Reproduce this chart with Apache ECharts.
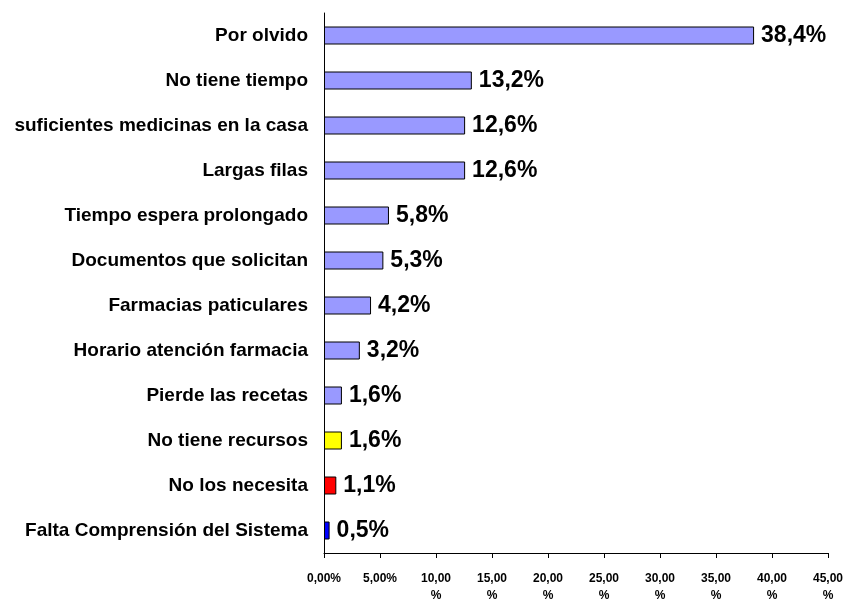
<!DOCTYPE html>
<html>
<head>
<meta charset="utf-8">
<script src="https://cdn.jsdelivr.net/npm/echarts@6/dist/echarts.min.js"></script>
<style>
  html, body { margin: 0; padding: 0; background: #fff; }
  #chart { width: 852px; height: 601px; }
</style>
</head>
<body>
<div id="chart"></div>
<script>
// categories top to bottom, as in the picture
const categories = [
    'Por olvido',
    'No tiene tiempo',
    'suficientes medicinas en la casa',
    'Largas filas',
    'Tiempo espera prolongado',
    'Documentos que solicitan',
    'Farmacias paticulares',
    'Horario atención farmacia',
    'Pierde las recetas',
    'No tiene recursos',
    'No los necesita',
    'Falta Comprensión del Sistema'
];
const percents = [38.4, 13.2, 12.6, 12.6, 5.8, 5.3, 4.2, 3.2, 1.6, 1.6, 1.1, 0.5];
const barColors = ['#9999ff', '#9999ff', '#9999ff', '#9999ff', '#9999ff', '#9999ff',
    '#9999ff', '#9999ff', '#9999ff', '#ffff00', '#ff0000', '#0000ff'];

const chart = echarts.init(document.getElementById('chart'));

const fmtPct = v => v.toFixed(1).replace('.', ',') + '%';
const fmtTick = v => {
    const s = v.toFixed(2).replace('.', ',');
    return v >= 10 ? s + '\n%' : s + '%';
};

chart.setOption({
    animation: false,
    textStyle: { fontFamily: 'Liberation Sans, Arial, sans-serif' },
    grid: { left: 324, right: 24, top: 13, bottom: 48, outerBoundsMode: 'none' },
    xAxis: {
        type: 'value',
        min: 0,
        max: 45,
        interval: 5,
        splitLine: { show: false },
        axisLine: { show: true, lineStyle: { color: '#000' } },
        axisTick: { show: true, length: 5, lineStyle: { color: '#000' } },
        axisLabel: {
            formatter: fmtTick,
            color: '#000',
            fontWeight: 'bold',
            fontSize: 12,
            lineHeight: 17,
            margin: 17
        }
    },
    yAxis: {
        type: 'category',
        inverse: true,
        data: categories,
        axisLine: { lineStyle: { color: '#000' } },
        axisTick: { length: 5, lineStyle: { color: '#000' } },
        axisLabel: {
            color: '#000',
            fontWeight: 'bold',
            fontSize: 19,
            margin: 16
        }
    },
    series: [{
        type: 'bar',
        barWidth: 18,
        data: percents.map((v, i) => ({
            value: v,
            itemStyle: { color: barColors[i] }
        })),
        itemStyle: { borderColor: '#000', borderWidth: 1 },
        label: {
            show: true,
            position: 'right',
            distance: 7,
            formatter: p => fmtPct(p.value),
            color: '#000',
            fontWeight: 'bold',
            fontSize: 23
        }
    }]
});
</script>
</body>
</html>
